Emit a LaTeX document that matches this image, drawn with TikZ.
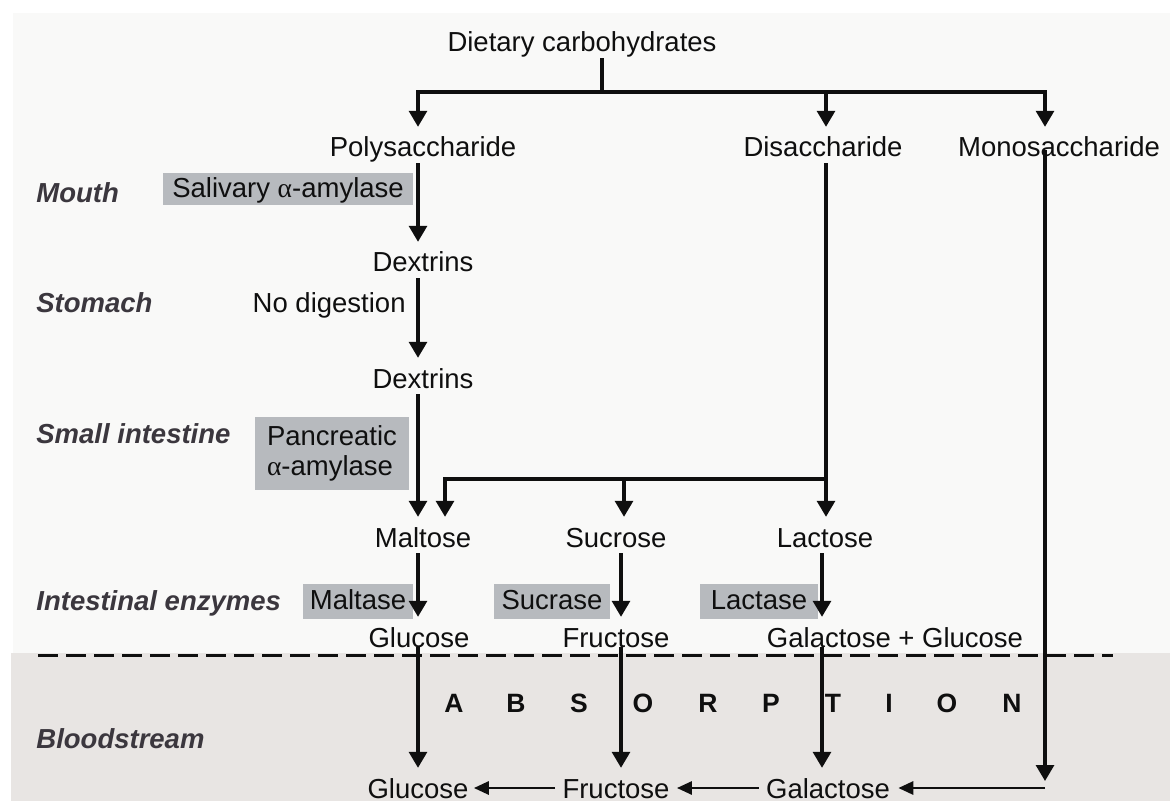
\documentclass[tikz,border=0pt]{standalone}
\usepackage{fontspec}
\setmainfont{Liberation Sans}
\newfontfamily\grk{Liberation Serif}
\usetikzlibrary{arrows.meta,calc}
\definecolor{bgtop}{RGB}{249,249,248}
\definecolor{bgbot}{RGB}{232,229,227}
\definecolor{boxg}{RGB}{183,186,190}
\definecolor{labcol}{RGB}{59,55,62}
\definecolor{ink}{RGB}{15,15,15}
\begin{document}
\begin{tikzpicture}[x=0.5pt,y=-0.5pt,
 txt/.style={font=\fontsize{13.75}{15}\selectfont, inner sep=0pt, text height=9.9pt, text depth=3pt, anchor=base, text=ink},
 stage/.style={font=\fontsize{13.75}{15}\selectfont\bfseries\itshape, inner sep=0pt, anchor=base west, text=labcol},
 enz/.style={font=\fontsize{13.75}{15}\selectfont, fill=boxg, inner sep=0pt, text=ink},
 enzone/.style={enz, text height=9.9pt, text depth=1.5pt},
 absl/.style={font=\fontsize{13.25}{15}\selectfont\bfseries, inner sep=0pt, anchor=base, text=ink},
 ln/.style={line width=1.55pt, draw=ink},
 arr/.style={ln, -{Triangle[width=9pt,length=8pt]}, shorten >=5pt},
 harr/.style={ln, line width=1.4pt, -{Triangle[width=6.5pt,length=7.5pt]}},
 divider/.style={line width=1.5pt, draw=ink, dash pattern=on 10pt off 4pt}
]
\useasboundingbox (0,0) rectangle (1170,801);
\fill[white] (0,0) rectangle (1170,801);
\fill[bgtop] (13,13) rectangle (1170,653);
\fill[bgbot] (11,653) rectangle (1170,801);

% column coordinates
\coordinate (cA) at (418,0);
\coordinate (cB) at (445,0);
\coordinate (cS1) at (624,0);
\coordinate (cS2) at (621,0);
\coordinate (cD) at (826,0);
\coordinate (cL) at (822,0);
\coordinate (cM) at (1045,0);
\coordinate (cT) at (602,0);

% stage labels
\node[stage] (mouth) at (36,203) {Mouth};
\node[stage] (stom) at (36,313) {Stomach};
\node[stage] (smint) at (36,443) {Small intestine};
\node[stage] (inten) at (36,610) {Intestinal enzymes};
\node[stage] (blood) at (36,748) {Bloodstream};

% enzyme boxes
\node[enzone, minimum width=125pt, minimum height=16pt] (sal) at (288,189) {Salivary {\grk α}-amylase};
\node[enz, minimum width=77pt, minimum height=36.5pt, align=left] (pan) at (332,453) {Pancreatic\\[0pt]{\grk α}-amylase};
\node[enzone, minimum width=55pt, minimum height=17.5pt] (maltase) at (358,601.5) {Maltase};
\node[enzone, minimum width=58pt, minimum height=17.5pt] (sucrase) at (552,601.5) {Sucrase};
\node[enzone, minimum width=59pt, minimum height=17.5pt] (lactase) at (759,601.5) {Lactase};

% text nodes
\node[txt] (diet) at (582,52) {Dietary carbohydrates};
\node[txt] (poly) at (423,157) {Polysaccharide};
\node[txt] (disa) at (823,157) {Disaccharide};
\node[txt] (mono) at (1059,157) {Monosaccharide};
\node[txt] (dex1) at (423,272) {Dextrins};
\node[txt, anchor=base east] (nodig) at (406,313) {No digestion};
\node[txt] (dex2) at (423,388) {Dextrins};
\node[txt] (malt) at (423,547) {Maltose};
\node[txt] (sucr) at (616,547) {Sucrose};
\node[txt] (lact) at (825,547) {Lactose};
\node[txt] (glc1) at (419,647) {Glucose};
\node[txt] (fru1) at (616,647) {Fructose};
\node[txt] (galglc) at (895,647) {Galactose + Glucose};
\node[txt] (glc2) at (418,798) {Glucose};
\node[txt] (fru2) at (616,798) {Fructose};
\node[txt] (gal2) at (828,798) {Galactose};

% ABSORPTION
\node[absl] (a1) at (454,712) {A};
\node[absl] (a2) at (516,712) {B};
\node[absl] (a3) at (579,712) {S};
\node[absl] (a4) at (643,712) {O};
\node[absl] (a5) at (708,712) {R};
\node[absl] (a6) at (771,712) {P};
\node[absl] (a7) at (833,712) {T};
\node[absl] (a8) at (889,712) {I};
\node[absl] (a9) at (947,712) {O};
\node[absl] (a10) at (1012,712) {N};

% divider
\coordinate (dl) at (38,655);
\coordinate (dr) at (1113,655);
\draw[divider] (dl) -- (dr);

% top branching
\coordinate (top) at (602,92);
\draw[ln] (diet.south -| cT) -- (top);
\draw[arr] (top) -| (poly.north -| cA);
\draw[arr] (top) -| (mono.north -| cM);
\draw[arr] (top -| cD) -- (disa.north -| cD);

% polysaccharide chain
\draw[arr] (poly.south -| cA) -- (dex1.north -| cA);
\draw[arr] (dex1.south -| cA) -- (dex2.north -| cA);
\draw[arr] (dex2.south -| cA) -- (malt.north -| cA);

% disaccharide branch
\coordinate (jn) at (826,479);
\draw[arr] (disa.south -| cD) -- (lact.north -| cD);
\draw[arr] (jn) -| (malt.north -| cB);
\draw[arr] (jn -| cS1) -- (sucr.north -| cS1);

% intestinal enzymes
\draw[arr] (malt.south -| cA) -- (glc1.north -| cA);
\draw[arr] (sucr.south -| cS2) -- (fru1.north -| cS2);
\draw[arr] (lact.south -| cL) -- (galglc.north -| cL);

% absorption
\draw[arr] (glc1.base -| cA) -- (glc2.north -| cA);
\draw[arr] (fru1.base -| cS2) -- (fru2.north -| cS2);
\draw[arr] (galglc.base -| cL) -- (gal2.north -| cL);
\coordinate (mb) at (1045,781);
\coordinate (mh) at (1045,788);
\draw[arr, shorten >=0pt] (mono.center -| cM) -- (mb);
\draw[harr, shorten >=4pt] (mh) -- (gal2.east |- mh);
\draw[harr, shorten <=3.5pt, shorten >=3.5pt] (gal2.west |- mh) -- (fru2.east |- mh);
\draw[harr, shorten <=3.5pt, shorten >=2.5pt] (fru2.west |- mh) -- (glc2.east |- mh);
\end{tikzpicture}
\end{document}
